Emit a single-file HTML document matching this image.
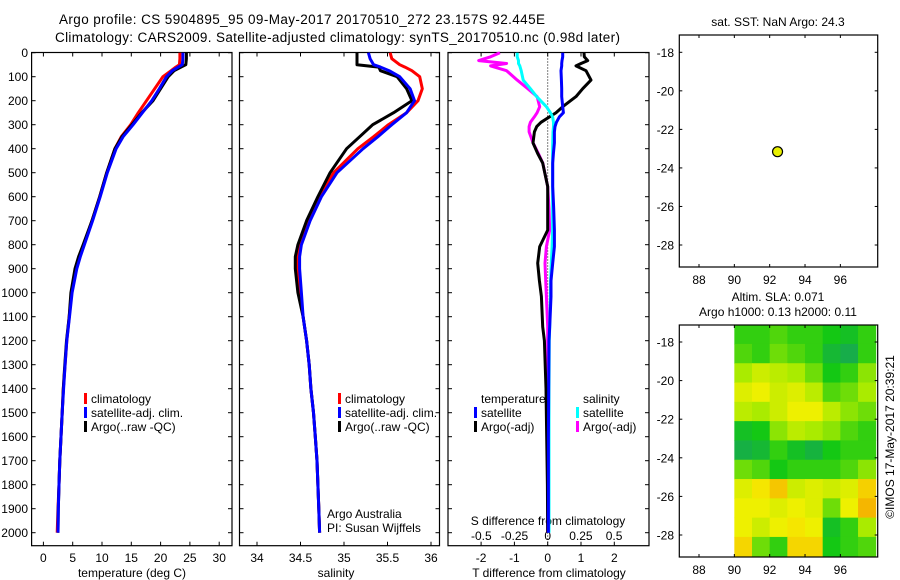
<!DOCTYPE html>
<html><head><meta charset="utf-8"><style>
body{margin:0;background:#fff}
svg{display:block;font-family:"Liberation Sans",sans-serif;font-size:12px}
</style></head><body>
<svg id="s" width="900" height="580" xmlns="http://www.w3.org/2000/svg">
<text x="59" y="24" font-size="13.5" textLength="486">Argo profile: CS 5904895_95 09-May-2017 20170510_272 23.157S 92.445E</text>
<text x="55" y="42" font-size="13.5" textLength="565">Climatology: CARS2009. Satellite-adjusted climatology: synTS_20170510.nc (0.98d later)</text>
<text x="778" y="26" text-anchor="middle">sat. SST: NaN Argo: 24.3</text>
<text x="778" y="301" text-anchor="middle">Altim. SLA: 0.071</text>
<text x="778" y="316" text-anchor="middle">Argo h1000: 0.13 h2000: 0.11</text>
<text transform="translate(894,437) rotate(-90)" text-anchor="middle">©IMOS 17-May-2017 20:39:21</text>
<g id="g"></g>
</svg>
<script>
// ---- data ----
const depths = [0,25,50,60,75,100,150,200,250,300,350,400,500,600,700,800,850,900,1000,1100,1200,1300,1400,1500,1600,1700,1800,1900,2000];
const tempArgo = [24.4,24.4,24.3,23.5,22.3,21.3,20.0,18.7,16.8,15.1,13.4,12.2,10.8,9.6,8.3,6.8,6.0,5.4,4.7,4.4,3.95,3.65,3.4,3.2,3.0,2.8,2.66,2.55,2.5];
const tempClim = [23.3,23.3,23.2,22.6,21.8,20.4,19.0,17.6,16.2,14.9,13.3,12.2,10.8,9.6,8.3,6.9,6.2,5.6,4.8,4.4,4.0,3.7,3.4,3.2,3.0,2.8,2.66,2.5,2.35];
const tempSat = [23.8,23.8,23.7,23.0,22.0,21.0,19.8,18.5,16.9,15.3,13.6,12.4,10.9,9.7,8.4,7.0,6.3,5.7,4.9,4.45,4.0,3.7,3.45,3.2,3.0,2.8,2.66,2.55,2.5];
const salArgo = [35.15,35.15,35.15,35.40,35.42,35.61,35.72,35.78,35.57,35.33,35.18,35.03,34.84,34.70,34.57,34.47,34.44,34.44,34.47,34.53,34.57,34.60,34.62,34.65,34.67,34.69,34.70,34.71,34.72];
const salClim = [35.53,35.55,35.64,35.70,35.78,35.87,35.90,35.85,35.72,35.51,35.34,35.16,34.88,34.72,34.59,34.49,34.47,34.47,34.49,34.53,34.57,34.60,34.62,34.65,34.67,34.69,34.70,34.71,34.72];
const salSat = [35.28,35.30,35.34,35.42,35.52,35.64,35.76,35.81,35.72,35.55,35.39,35.22,34.92,34.74,34.61,34.51,34.49,34.49,34.51,34.53,34.57,34.60,34.62,34.65,34.67,34.69,34.70,34.71,34.72];
const diffDepths = [0,17,33,45,55,75,114,150,183,225,250,267,290,308,330,376,420,460,558,650,739,808,877,950,1016,1142,1200,1400,1600,1800,2000];
const dTArgo = [1.09,1.1,1.2,1.0,0.85,1.15,1.3,1.05,0.85,0.45,0.25,0.06,-0.2,-0.33,-0.4,-0.44,-0.3,-0.15,0,0,0,-0.24,-0.3,-0.25,-0.19,-0.15,-0.1,-0.05,-0.03,-0.01,0];
const dTSat = [0.45,0.45,0.43,0.42,0.42,0.4,0.41,0.42,0.42,0.45,0.47,0.35,0.26,0.22,0.2,0.2,0.17,0.15,0.15,0.18,0.2,0.2,0.15,0.1,0.1,0.06,0.04,0.03,0.02,0.02,0.02];
const dSSat = [-0.23,-0.23,-0.22,-0.22,-0.21,-0.2,-0.185,-0.13,-0.084,-0.01,0.02,0.037,0.044,0.044,0.04,0.038,0.037,0.037,0.037,0.037,0.037,0.033,0.027,0.022,0.02,0.015,0.012,0.01,0.01,0.01,0.01];
const dSArgo = [-0.36,-0.43,-0.52,-0.31,-0.43,-0.31,-0.23,-0.15,-0.08,-0.06,-0.08,-0.1,-0.13,-0.14,-0.14,-0.11,-0.07,-0.037,0,0.01,0.015,-0.01,-0.02,-0.015,-0.01,0,0,0,0,0,0];
const depthTicks = [0,100,200,300,400,500,600,700,800,900,1000,1100,1200,1300,1400,1500,1600,1700,1800,1900,2000];
const tempTicks = [0,5,10,15,20,25,30];
const salTicks = [34,34.5,35,35.5,36];
const tDiffTicks = [-2,-1,0,1,2];
const sDiffTicks = [-0.5,-0.25,0,0.25,0.5];
const sDiffLabels = ["-0.5","-0.25","0","0.25","0.5"];
const lonTicks = [88,90,92,94,96];
const latTicks = [-18,-20,-22,-24,-26,-28];
const argoLon = 92.445, argoLat = -23.157;
const slaLons = [90,91,92,93,94,95,96,97];
const slaLatTop = [-17.1,-18.1,-19.1,-20.1,-21.1,-22.1,-23.1,-24.1,-25.1,-26.1,-27.1,-28.1];
const slaGrid = [
[0.3,0.3,0.35,0.3,0.3,0.25,0.2,0.3],
[0.35,0.3,0.4,0.35,0.3,0.15,0.08,0.3],
[0.5,0.6,0.55,0.5,0.4,0.25,0.3,0.45],
[0.65,0.7,0.6,0.65,0.55,0.35,0.4,0.5],
[0.55,0.5,0.6,0.7,0.7,0.55,0.45,0.4],
[0.2,0.25,0.45,0.55,0.5,0.45,0.35,0.3],
[0.1,0.15,0.3,0.2,0.12,0.25,0.3,0.3],
[0.4,0.35,0.25,0.3,0.3,0.3,0.35,0.45],
[0.65,0.75,0.85,0.6,0.65,0.6,0.65,0.82],
[0.7,0.7,0.65,0.7,0.65,0.4,0.7,0.9],
[0.7,0.6,0.7,0.75,0.7,0.2,0.3,0.5],
[0.8,0.4,0.3,0.8,0.8,0.25,0.3,0.35]];

// ---- scales ----
const yD = d => 52.7 + d*0.24;
const xT = t => 43.4 + t*5.86;
const xS = s => 257 + (s-34)*87;
const xdT = t => 547.7 + t*33.3;
const xdS = s => 547.7 + s*132.7;
const xLon = l => 699 + (l-88)*17.67;
const yLatTop = l => 52.3 + (-18-l)*19.27;
const yLatBot = l => 342 + (-18-l)*19.3;

const NS="http://www.w3.org/2000/svg";
const G=document.getElementById('g');
function mk(tag, attrs, parent){const e=document.createElementNS(NS,tag);for(const k in attrs)e.setAttribute(k,attrs[k]);(parent||G).appendChild(e);return e;}
function txt(x,y,s,anchor){const e=mk('text',{x:x,y:y,'text-anchor':anchor||'start'});e.textContent=s;return e;}

function panelBox(x1,y1,x2,y2,name){
  const r=mk('rect',{x:x1,y:y1,width:x2-x1,height:y2-y1,fill:'none',stroke:'#000','stroke-width':1.2});
  
  
}
function line(xs,ys,color,w,name){
  const pts=xs.map((x,i)=>x.toFixed(1)+','+ys[i].toFixed(1)).join(' ');
  const p=mk('polyline',{points:pts,fill:'none',stroke:color,'stroke-width':w,'stroke-linejoin':'round'});
  
  
}

// panels
const P=[[31.6,232],[239.5,439.5],[448,649]];
const pTop=52.5,pBot=545.7;
panelBox(31.6,pTop,232,pBot,'temperature-panel');
panelBox(239.5,pTop,439.5,pBot,'salinity-panel');
panelBox(448,pTop,649,pBot,'difference-panel');

// depth ticks
depthTicks.forEach(d=>{
  const y=yD(d);
  const t=txt(28,y+4.5,String(d),'end');
  
  
  P.forEach(p=>{mk('line',{x1:p[0],y1:y,x2:p[0]+4,y2:y,stroke:'#000'});mk('line',{x1:p[1]-4,y1:y,x2:p[1],y2:y,stroke:'#000'});});
});
// temp ticks
tempTicks.forEach(v=>{const x=xT(v);mk('line',{x1:x,y1:pTop,x2:x,y2:pTop+4,stroke:'#000'});mk('line',{x1:x,y1:pBot-4,x2:x,y2:pBot,stroke:'#000'});
  const t=txt(x,562,String(v),'middle');
  
  });
salTicks.forEach(v=>{const x=xS(v);mk('line',{x1:x,y1:pTop,x2:x,y2:pTop+4,stroke:'#000'});mk('line',{x1:x,y1:pBot-4,x2:x,y2:pBot,stroke:'#000'});
  const t=txt(x,562,String(v),'middle');
  
  });
tDiffTicks.forEach(v=>{const x=xdT(v);mk('line',{x1:x,y1:pTop,x2:x,y2:pTop+4,stroke:'#000'});mk('line',{x1:x,y1:pBot-4,x2:x,y2:pBot,stroke:'#000'});
  const t=txt(x,562,String(v),'middle');
  
  });
sDiffTicks.forEach((v,i)=>{const t=txt(xdS(v),540,sDiffLabels[i],'middle');
  
  });
let a;
a=txt(132,577,'temperature (deg C)','middle');
a=txt(336,577,'salinity','middle');
a=txt(549,577,'T difference from climatology','middle');
a=txt(548,525,'S difference from climatology','middle');
a=txt(327,518,'Argo Australia');
a=txt(327,532,'PI: Susan Wijffels');

// zero dotted line
a=mk('line',{x1:547.7,y1:pTop,x2:547.7,y2:pBot,stroke:'#000','stroke-dasharray':'1,2'});


const yd=depths.map(yD), ydd=diffDepths.map(yD);
line(tempClim.map(xT),yd,'#f00',3,'temperature-climatology');
line(tempArgo.map(xT),yd,'#000',3,'temperature-argo');
line(tempSat.map(xT),yd,'#00f',3,'temperature-satellite-clim');
line(salClim.map(xS),yd,'#f00',3,'salinity-climatology');
line(salArgo.map(xS),yd,'#000',3,'salinity-argo');
line(salSat.map(xS),yd,'#00f',3,'salinity-satellite-clim');
line(dSArgo.map(xdS),ydd,'#f0f',3,'s-diff-argo');
line(dTArgo.map(xdT),ydd,'#000',3,'t-diff-argo');
line(dSSat.map(xdS),ydd,'#0ff',3,'s-diff-satellite');
line(dTSat.map(xdT),ydd,'#00f',3,'t-diff-satellite');

// legends
function leg(x,y,color,label,name){
  const g=mk('g',{});
  
  
  mk('rect',{x:x,y:y-10,width:3,height:11,fill:color},g);
  const t=mk('text',{x:x+7,y:y},g);t.textContent=label;
}
leg(84,403,'#f00','climatology','legend-temp-climatology');
leg(84,417,'#00f','satellite-adj. clim.','legend-temp-satellite');
leg(84,431,'#000','Argo(..raw -QC)','legend-temp-argo');
leg(338,403,'#f00','climatology','legend-sal-climatology');
leg(338,417,'#00f','satellite-adj. clim.','legend-sal-satellite');
leg(338,431,'#000','Argo(..raw -QC)','legend-sal-argo');
a=txt(481,403,'temperature');
a=txt(583,403,'salinity');
leg(474,417,'#00f','satellite','legend-t-satellite');
leg(474,431,'#000','Argo(-adj)','legend-t-argo');
leg(576,417,'#0ff','satellite','legend-s-satellite');
leg(576,431,'#f0f','Argo(-adj)','legend-s-argo');

// map panels
function mapAxes(y1,y2,yL,name){
  panelBox(679.3,y1,877.7,y2,name);
  lonTicks.forEach(v=>{const x=xLon(v);mk('line',{x1:x,y1:y1,x2:x,y2:y1+3,stroke:'#000'});mk('line',{x1:x,y1:y2-3,x2:x,y2:y2,stroke:'#000'});
    const t=txt(x,y2+17,String(v),'middle');
    
    });
  latTicks.forEach(v=>{const y=yL(v);mk('line',{x1:679.3,y1:y,x2:682.3,y2:y,stroke:'#000'});mk('line',{x1:874.7,y1:y,x2:877.7,y2:y,stroke:'#000'});
    const t=txt(674,y+4.5,String(v),'end');
    
    });
}
// heatmap
const stops=[[0,[24,160,100]],[0.25,[20,200,20]],[0.5,[170,235,0]],[0.72,[245,240,0]],[1,[245,150,0]]];
function cmap(v){for(let i=1;i<stops.length;i++){if(v<=stops[i][0]){const a=stops[i-1],b=stops[i],f=(v-a[0])/(b[0]-a[0]);return 'rgb('+a[1].map((c,k)=>Math.round(c+(b[1][k]-c)*f)).join(',')+')';}}return 'rgb(245,150,0)';}
slaGrid.forEach((row,r)=>row.forEach((v,c)=>{
  const x=xLon(slaLons[c]),y=yLatBot(slaLatTop[r]);
  const cell=mk('rect',{x:x,y:y,width:xLon(slaLons[c]+1)-x+0.5,height:yLatBot(slaLatTop[r]-1)-y+0.5,fill:cmap(v)});
  
  
}));
mapAxes(35,267,yLatTop,'sst-map-panel');
mapAxes(325,557,yLatBot,'sla-map-panel');
a=mk('circle',{cx:xLon(argoLon),cy:yLatTop(argoLat),r:5,fill:'#e8f000',stroke:'#000','stroke-width':1.2});

</script>
</body></html>
